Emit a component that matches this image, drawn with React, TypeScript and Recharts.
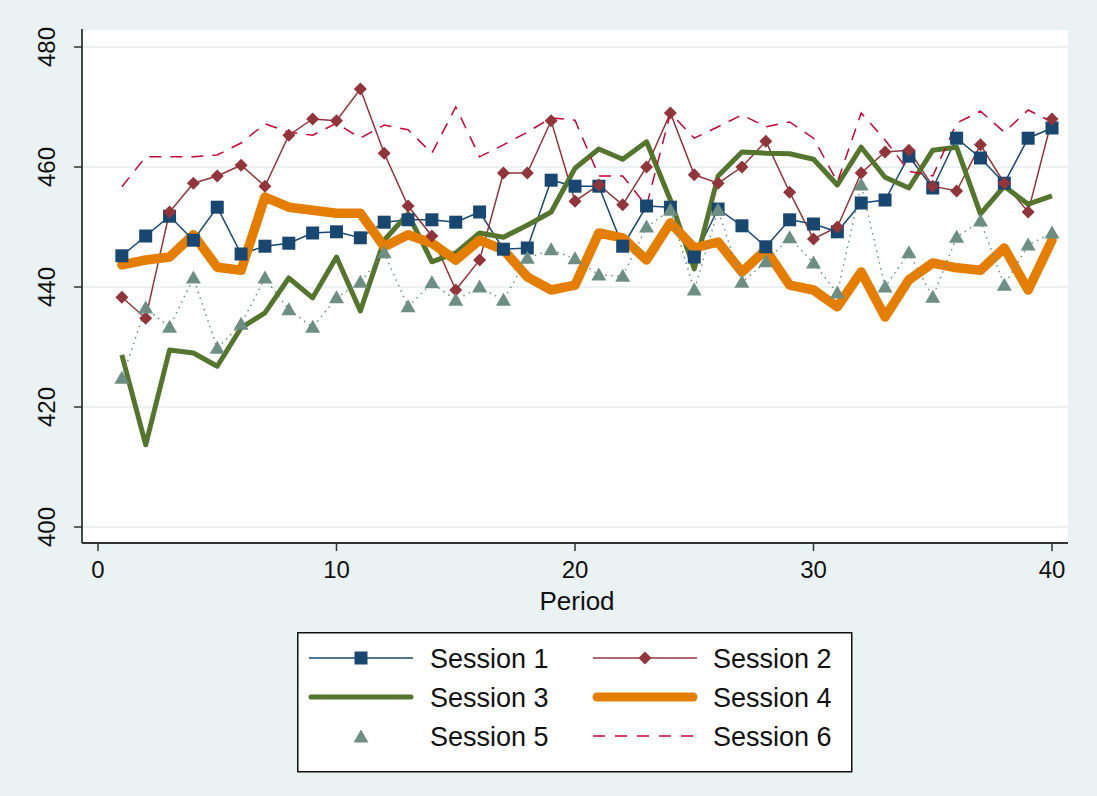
import React from 'react';
import { LineChart, Line, XAxis, YAxis, CartesianGrid, Legend } from 'recharts';

const periods = Array.from({ length: 40 }, (_, i) => i + 1);

const session1 = [445.2, 448.5, 451.8, 447.8, 453.3, 445.5, 446.8, 447.3, 449.0, 449.2, 448.2, 450.8, 451.2, 451.2, 450.8, 452.5, 446.3, 446.5, 457.8, 456.8, 456.8, 446.8, 453.5, 453.3, 445.0, 453.0, 450.2, 446.7, 451.2, 450.5, 449.2, 454.0, 454.5, 461.8, 456.5, 464.8, 461.5, 457.3, 464.8, 466.5];
const session2 = [438.3, 434.8, 452.5, 457.3, 458.5, 460.3, 456.8, 465.3, 468.0, 467.7, 473.0, 462.3, 453.5, 448.5, 439.5, 444.5, 459.0, 459.0, 467.7, 454.3, 457.0, 453.7, 460.0, 469.0, 458.7, 457.3, 460.0, 464.3, 455.8, 448.0, 450.0, 459.0, 462.5, 462.8, 456.8, 456.0, 463.7, 457.3, 452.5, 468.0];
const session3 = [428.7, 413.7, 429.5, 429.0, 426.8, 433.2, 435.7, 441.5, 438.2, 445.0, 436.0, 447.8, 452.2, 444.2, 445.7, 449.0, 448.3, 450.3, 452.5, 459.8, 463.0, 461.3, 464.2, 454.5, 443.0, 458.5, 462.5, 462.3, 462.2, 461.3, 457.0, 463.3, 458.3, 456.5, 462.8, 463.3, 452.2, 456.8, 453.8, 455.2];
const session4 = [443.7, 444.5, 445.0, 448.7, 443.3, 442.8, 455.0, 453.3, 452.8, 452.3, 452.3, 446.7, 448.7, 447.3, 444.5, 447.8, 446.2, 441.7, 439.5, 440.3, 449.0, 448.2, 444.5, 450.7, 446.5, 447.5, 442.5, 446.2, 440.3, 439.5, 436.7, 442.5, 435.0, 441.2, 444.0, 443.2, 442.8, 446.5, 439.5, 447.8];
const session5 = [424.8, 436.5, 433.3, 441.5, 429.8, 433.8, 441.5, 436.2, 433.3, 438.2, 440.8, 445.7, 436.7, 440.7, 437.8, 440.0, 437.8, 444.8, 446.2, 444.7, 442.0, 441.8, 450.0, 452.8, 439.5, 452.8, 440.8, 444.2, 448.2, 444.0, 439.0, 457.0, 440.0, 445.7, 438.3, 448.3, 451.0, 440.3, 447.0, 449.0];
const session6 = [456.7, 461.7, 461.7, 461.7, 462.0, 464.0, 467.2, 465.8, 465.3, 467.3, 464.8, 467.0, 466.2, 462.3, 470.0, 461.7, 463.7, 465.8, 468.2, 467.8, 458.5, 458.5, 453.5, 469.0, 464.8, 466.7, 468.7, 466.7, 467.5, 464.8, 457.5, 469.0, 464.5, 459.3, 458.5, 467.3, 469.3, 465.8, 469.5, 467.5];

const xTicks = [0, 10, 20, 30, 40];
const yTicks = [400, 420, 440, 460, 480];
const seriesNames = ['Session 1', 'Session 2', 'Session 3', 'Session 4', 'Session 5', 'Session 6'];

const data = periods.map((p, i) => ({
  period: p,
  s1: session1[i],
  s2: session2[i],
  s3: session3[i],
  s4: session4[i],
  s5: session5[i],
  s6: session6[i],
}));

const C1 = '#1A476F';
const C2 = '#90353B';
const C3 = '#55752F';
const C4 = '#E37E00';
const C5 = '#6E8E84';
const C6 = '#C10534';
const FONT = '"Liberation Sans", Arial, sans-serif';

const squareShape = (cx: number, cy: number, key?: any) => (
  <rect key={key} x={cx - 6.5} y={cy - 6.5} width={13} height={13} fill={C1} />
);
const diamondShape = (cx: number, cy: number, key?: any) => (
  <polygon key={key} points={`${cx},${cy - 6.5} ${cx + 6.5},${cy} ${cx},${cy + 6.5} ${cx - 6.5},${cy}`} fill={C2} />
);
const triangleShape = (cx: number, cy: number, key?: any) => (
  <polygon key={key} points={`${cx},${cy - 7.5} ${cx + 7.5},${cy + 5.5} ${cx - 7.5},${cy + 5.5}`} fill={C5} />
);

const SquareDot = (props: any) => squareShape(props.cx, props.cy, props.key);
const DiamondDot = (props: any) => diamondShape(props.cx, props.cy, props.key);
const TriangleDot = (props: any) => triangleShape(props.cx, props.cy, props.key);

const YTick = (props: any) => {
  const { y, payload } = props;
  const tx = 46;
  return (
    <text
      x={tx}
      y={y}
      transform={`rotate(-90, ${tx}, ${y})`}
      textAnchor="middle"
      dominantBaseline="central"
      fontFamily={FONT}
      fontSize={24}
      fill="#111"
    >
      {payload.value}
    </text>
  );
};

const XTick = (props: any) => {
  const { x, y, payload } = props;
  return (
    <text x={x} y={y + 25} textAnchor="middle" fontFamily={FONT} fontSize={24} fill="#111">
      {payload.value}
    </text>
  );
};

const XLabel = (props: any) => {
  const vb = props.viewBox || {};
  return (
    <text x={vb.x + vb.width / 2 + 2} y={vb.y + 67} textAnchor="middle" fontFamily={FONT} fontSize={26} fill="#111">
      Period
    </text>
  );
};

const renderLegend = () => {
  const rows = [26, 65, 104];
  const col1 = { x1: 12, x2: 116, m: 64, t: 133 };
  const col2 = { x1: 296, x2: 400, m: 348, t: 416 };
  const txt = (x: number, y: number, s: string) => (
    <text x={x} y={y + 9.5} fontFamily={FONT} fontSize={27} fill="#111">{s}</text>
  );
  return (
    <svg width={556} height={141} style={{ display: 'block' }}>
      <rect x={0.75} y={0.75} width={554} height={139} fill="#fff" stroke="#111" strokeWidth={1.5} />
      <line x1={col1.x1} x2={col1.x2} y1={rows[0]} y2={rows[0]} stroke={C1} strokeWidth={1.5} />
      {squareShape(col1.m, rows[0])}
      {txt(col1.t, rows[0], seriesNames[0])}
      <line x1={col2.x1} x2={col2.x2} y1={rows[0]} y2={rows[0]} stroke={C2} strokeWidth={1.5} />
      {diamondShape(col2.m, rows[0])}
      {txt(col2.t, rows[0], seriesNames[1])}
      <line x1={col1.x1 + 2} x2={col1.x2 - 2} y1={rows[1]} y2={rows[1]} stroke={C3} strokeWidth={5} strokeLinecap="round" />
      {txt(col1.t, rows[1], seriesNames[2])}
      <line x1={col2.x1 + 4} x2={col2.x2 - 4} y1={rows[1]} y2={rows[1]} stroke={C4} strokeWidth={9} strokeLinecap="round" />
      {txt(col2.t, rows[1], seriesNames[3])}
      {triangleShape(col1.m, rows[2] + 1)}
      {txt(col1.t, rows[2], seriesNames[4])}
      <line x1={col2.x1} x2={col2.x2} y1={rows[2]} y2={rows[2]} stroke={C6} strokeWidth={1.5} strokeDasharray="12 10" />
      {txt(col2.t, rows[2], seriesNames[5])}
    </svg>
  );
};

export default function App() {
  return (
    <div style={{ position: 'absolute', left: 0, top: 0, width: 1097, height: 796, background: '#EAF2F3' }}>
      <LineChart
        width={1097}
        height={796}
        data={data}
        margin={{ top: 29, right: 29, left: 0, bottom: 0 }}
      >
        <CartesianGrid horizontal vertical={false} stroke="#E4EEF0" strokeWidth={1.5} fill="#fff" />
        <XAxis
          dataKey="period"
          type="number"
          domain={[0, 40]}
          ticks={xTicks}
          padding={{ left: 16, right: 16 }}
          height={253}
          tickSize={8}
          axisLine={{ stroke: '#333', strokeWidth: 1.8 }}
          tickLine={{ stroke: '#333', strokeWidth: 1.5 }}
          tick={<XTick />}
          label={<XLabel />}
          interval={0}
        />
        <YAxis
          type="number"
          domain={[400, 480]}
          ticks={yTicks}
          padding={{ top: 18, bottom: 16 }}
          width={82}
          tickSize={8}
          axisLine={{ stroke: '#333', strokeWidth: 1.8 }}
          tickLine={{ stroke: '#333', strokeWidth: 1.5 }}
          tick={<YTick />}
          interval={0}
        />
        <Legend
          content={renderLegend}
          layout="horizontal"
          verticalAlign="middle"
          align="center"
          wrapperStyle={{ position: 'absolute', left: 297, top: 632, width: 556, height: 141 }}
        />
        <Line dataKey="s1" name={seriesNames[0]} stroke={C1} strokeWidth={1.5} dot={SquareDot} activeDot={false} isAnimationActive={false} />
        <Line dataKey="s2" name={seriesNames[1]} stroke={C2} strokeWidth={1.5} dot={DiamondDot} activeDot={false} isAnimationActive={false} />
        <Line dataKey="s3" name={seriesNames[2]} stroke={C3} strokeWidth={5} strokeLinejoin="round" dot={false} activeDot={false} isAnimationActive={false} />
        <Line dataKey="s4" name={seriesNames[3]} stroke={C4} strokeWidth={9.5} strokeLinejoin="round" strokeLinecap="round" dot={false} activeDot={false} isAnimationActive={false} />
        <Line dataKey="s5" name={seriesNames[4]} stroke={C5} strokeWidth={1.5} strokeDasharray="1.5 4.5" dot={TriangleDot} activeDot={false} isAnimationActive={false} />
        <Line dataKey="s6" name={seriesNames[5]} stroke={C6} strokeWidth={1.5} strokeDasharray="12 9" dot={false} activeDot={false} isAnimationActive={false} />
      </LineChart>
    </div>
  );
}
